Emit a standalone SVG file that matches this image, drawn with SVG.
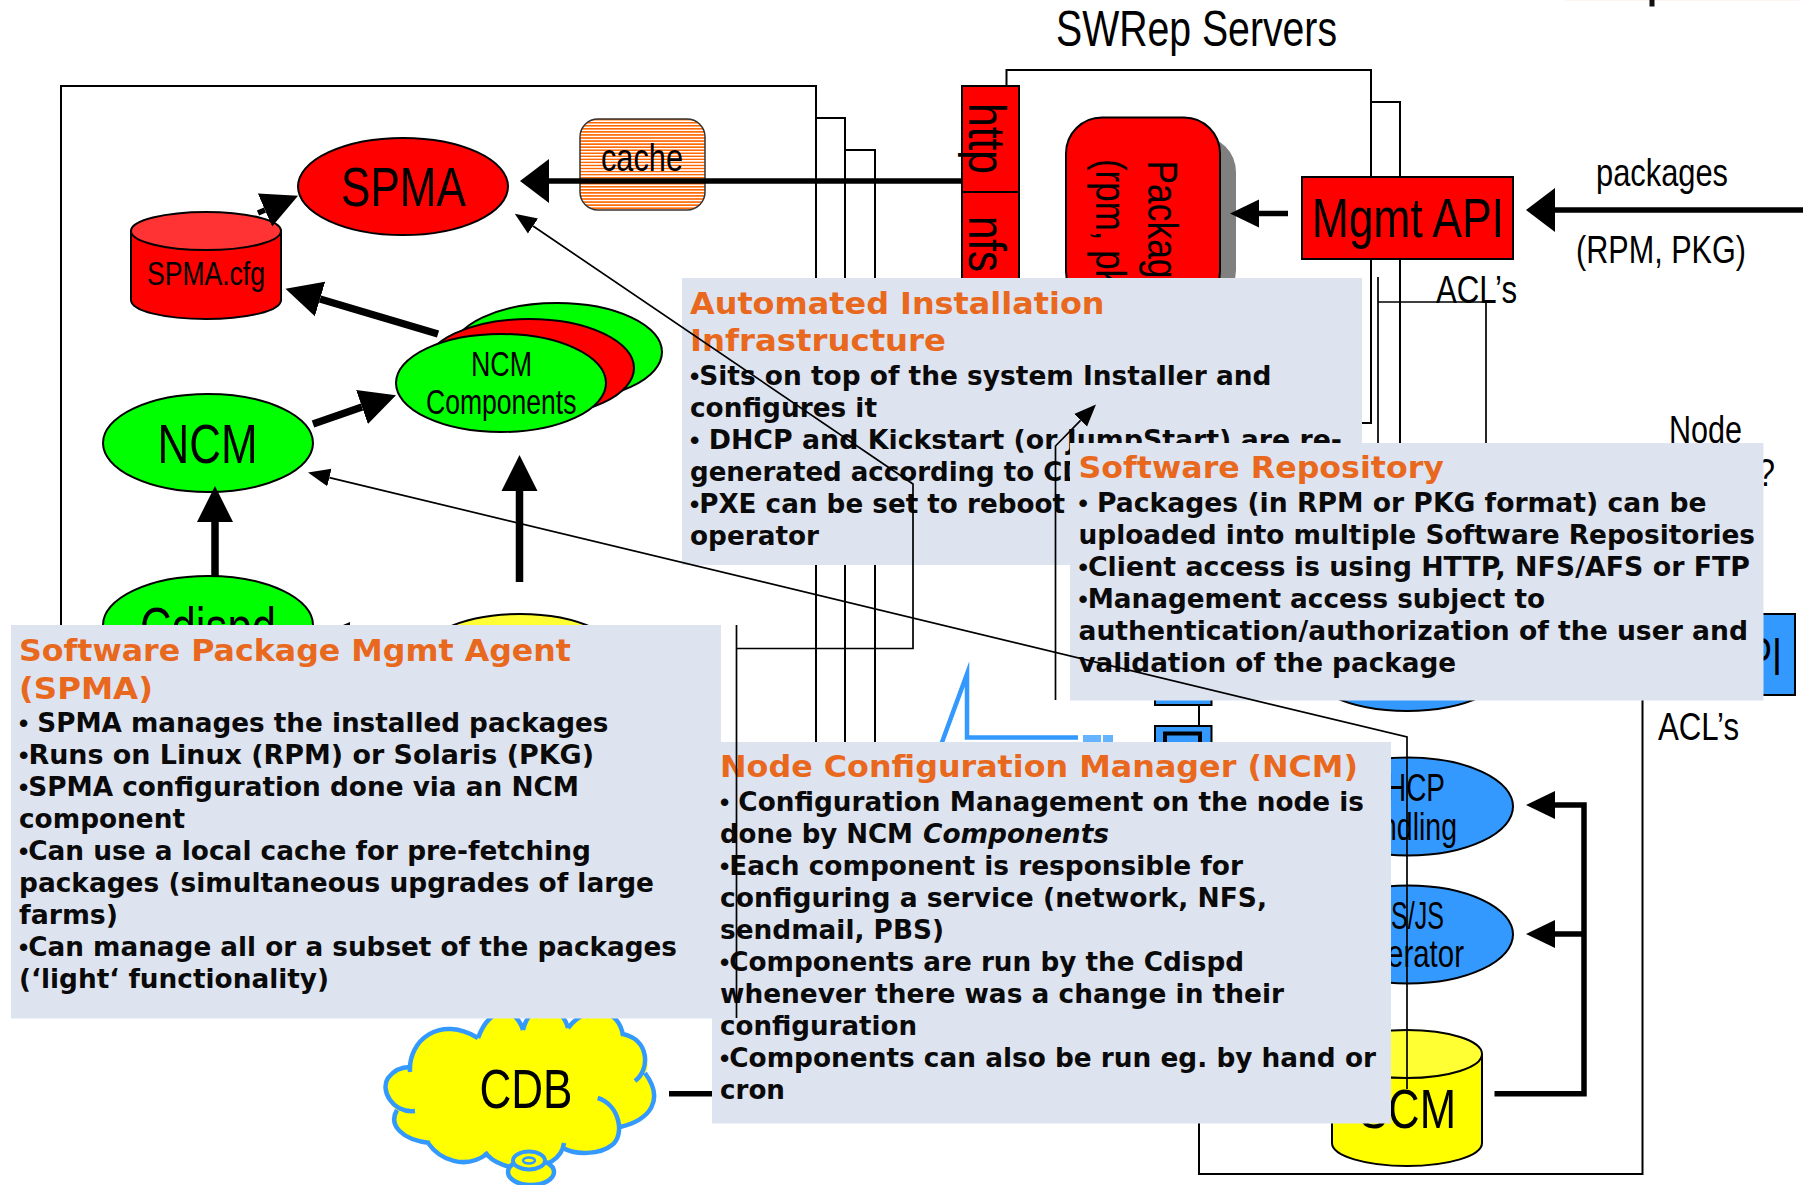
<svg xmlns="http://www.w3.org/2000/svg" width="1803" height="1185" viewBox="0 0 1803 1185">
<style>
.l{font-family:"Liberation Sans",Arial,sans-serif;fill:#000}
.b{font-family:"DejaVu Sans",Verdana,sans-serif;font-weight:700;font-size:26.5px;fill:#0a0a0a}
.d{font-family:"Liberation Sans",Arial,sans-serif}
.t{font-family:"DejaVu Sans",Verdana,sans-serif;font-weight:700;font-size:31px;fill:#E8681E}
.s{fill:none;stroke:#000;stroke-width:2}
.n{stroke:#000;stroke-width:2}
.th{fill:none;stroke:#000;stroke-width:1.7}
.a5{fill:none;stroke:#000;stroke-width:5.5}
.a7{fill:none;stroke:#000;stroke-width:7.5}
.box{fill:#DEE3F0}
.blue{fill:#3399FF}
.cl{fill:none;stroke:#3399FF;stroke-width:4.5;stroke-miterlimit:30}
</style>
<defs>
<marker id="aL" markerUnits="userSpaceOnUse" markerWidth="30" markerHeight="46" refX="0" refY="23" orient="auto"><path d="M0,1L29,23L0,45Z"/></marker>
<marker id="aM" markerUnits="userSpaceOnUse" markerWidth="38" markerHeight="38" refX="0" refY="19" orient="auto"><path d="M0,1L36,19L0,37Z"/></marker>
<marker id="aS" markerUnits="userSpaceOnUse" markerWidth="30" markerHeight="30" refX="0" refY="15" orient="auto"><path d="M0,1L29,15L0,29Z"/></marker>
<marker id="aT" markerUnits="userSpaceOnUse" markerWidth="24" markerHeight="22" refX="0" refY="11" orient="auto"><path d="M0,2L22,11L0,20Z"/></marker>
<pattern id="st" width="6" height="3.05" patternUnits="userSpaceOnUse"><rect width="6" height="3.05" fill="#fff"/><rect width="6" height="1.5" fill="#FF6600"/></pattern>
</defs>
<rect width="1803" height="1185" fill="#fff"/>
<rect x="1565" y="0" width="235" height="1" fill="#fff4ef"/>
<rect x="1649.5" y="0" width="5" height="6.5" fill="#111"/>

<g id="frames">
<path class="s" d="M816,118H845V800M845,150H875V800"/>
<rect class="s" x="61" y="86" width="755" height="720"/>
<path class="s" d="M1371,102H1400V445"/>
<path class="s" d="M1006.5,90V70H1371V423H1355"/>
<path class="th" d="M1378,277V445M1378,302H1486V445"/>
<path class="s" d="M1199,1120V1174H1642.5V695"/>
<path class="s" d="M1199,704V726"/>
</g>

<g id="spmacfg"><path class="n" fill="#f00" d="M131,231V300C131,311 165,319 206,319C247,319 281,311 281,300V231Z"/><ellipse class="n" cx="206" cy="231" rx="75" ry="19" fill="#FF3333"/><text class="l" x="147" y="285" font-size="33" textLength="118" lengthAdjust="spacingAndGlyphs">SPMA.cfg</text></g>
<g id="spma"><ellipse class="n" cx="403" cy="186.5" rx="105" ry="48.5" fill="#f00"/><text class="l" x="341" y="206" font-size="56" textLength="125" lengthAdjust="spacingAndGlyphs">SPMA</text></g>
<g id="cache"><rect x="580" y="119" width="125" height="91" rx="18" fill="url(#st)" stroke="#333" stroke-width="1.5"/><text class="l" x="601" y="171" font-size="39" textLength="82" lengthAdjust="spacingAndGlyphs">cache</text></g>
<g id="ncmcomponents"><ellipse class="n" cx="557" cy="352" rx="105" ry="49" fill="#0f0"/><ellipse class="n" cx="529" cy="368" rx="105" ry="49" fill="#f00"/><ellipse class="n" cx="501" cy="383" rx="105" ry="49" fill="#0f0"/><text class="l" x="471" y="376" font-size="35" textLength="61" lengthAdjust="spacingAndGlyphs">NCM</text><text class="l" x="426" y="414" font-size="35" textLength="150.5" lengthAdjust="spacingAndGlyphs">Components</text></g>
<g id="ncm"><ellipse class="n" cx="208" cy="443" rx="105" ry="49" fill="#0f0"/><text class="l" x="157.5" y="463" font-size="56" textLength="100" lengthAdjust="spacingAndGlyphs">NCM</text></g>
<g id="cdispd"><ellipse class="n" cx="208" cy="625" rx="105" ry="49" fill="#0f0"/><text class="l" x="140" y="646" font-size="56" textLength="136" lengthAdjust="spacingAndGlyphs">Cdispd</text></g>
<g id="yellownode"><ellipse class="n" cx="520" cy="663" rx="105" ry="49" fill="#FFFF33"/></g>
<g id="http"><rect class="n" x="962" y="86" width="57" height="106" fill="#f00"/><text class="l" transform="translate(969,103) rotate(90)" font-size="52" textLength="71" lengthAdjust="spacingAndGlyphs">http</text></g>
<g id="nfs"><rect class="n" x="962" y="192" width="57" height="100" fill="#f00"/><text class="l" transform="translate(969,216) rotate(90)" font-size="52" textLength="56" lengthAdjust="spacingAndGlyphs">nfs</text></g>
<g id="packages-store"><rect x="1082" y="136" width="154" height="170" rx="36" fill="#808080"/><rect class="n" x="1066" y="117.5" width="154" height="190" rx="36" fill="#f00"/><text class="l" transform="translate(1148,160.5) rotate(90)" font-size="43" textLength="118" lengthAdjust="spacingAndGlyphs">Packag</text><text class="l" transform="translate(1096,159) rotate(90)" font-size="43" textLength="128" lengthAdjust="spacingAndGlyphs">(rpm, pk</text></g>
<g id="mgmtapi"><rect x="1302" y="177" width="211" height="82" fill="#f00" stroke="#000" stroke-width="2"/><text class="l" x="1312" y="237" font-size="56" textLength="192" lengthAdjust="spacingAndGlyphs">Mgmt API</text></g>
<g id="labels">
<text class="l" x="1056" y="46" font-size="50" textLength="281" lengthAdjust="spacingAndGlyphs">SWRep Servers</text>
<text class="l" x="1596" y="186" font-size="39" textLength="132" lengthAdjust="spacingAndGlyphs">packages</text>
<text class="l" x="1576" y="262.5" font-size="39" textLength="170" lengthAdjust="spacingAndGlyphs">(RPM, PKG)</text>
<text class="l" x="1436" y="303" font-size="39" textLength="81" lengthAdjust="spacingAndGlyphs">ACL’s</text>
<text class="l" x="1669" y="443" font-size="39" textLength="73" lengthAdjust="spacingAndGlyphs">Node</text>
<text class="l" x="1757" y="486" font-size="39" textLength="18" lengthAdjust="spacingAndGlyphs">?</text>
<text class="l" x="1658" y="740" font-size="39" textLength="81" lengthAdjust="spacingAndGlyphs">ACL’s</text>
</g>
<g id="api2"><rect x="1740" y="614" width="55" height="81" class="blue" stroke="#000" stroke-width="2"/><text class="l" x="1748" y="675" font-size="54" textLength="34" lengthAdjust="spacingAndGlyphs">PI</text></g>
<g id="blue-shape"><path class="cl" d="M941,745L967,674V737.5H1078"/><rect x="1083" y="735" width="18" height="8" fill="#66B3FF"/><rect x="1103" y="735" width="10" height="8" fill="#66B3FF"/></g>
<g id="bluebox1"><rect class="n" x="1155" y="690" width="56.500" height="15" fill="#3399FF"/></g>
<g id="bluebox2"><rect class="n" x="1155" y="726" width="56.500" height="30" fill="#3399FF"/><rect x="1165" y="733.500" width="35" height="20" fill="none" stroke="#000" stroke-width="4"/></g>
<g id="blue-ellipse"><ellipse class="n blue" cx="1407" cy="662" rx="105" ry="49"/></g>
<g id="dhcp"><ellipse class="n blue" cx="1408" cy="806.500" rx="105" ry="49"/><text class="l" x="1386" y="801" font-size="39" textLength="59" lengthAdjust="spacingAndGlyphs">HCP</text><text class="l" x="1381" y="840" font-size="39" textLength="76" lengthAdjust="spacingAndGlyphs">ndling</text></g>
<g id="ksjs"><ellipse class="n blue" cx="1408" cy="934.500" rx="105" ry="49"/><text class="l" x="1391" y="928.500" font-size="39" textLength="53" lengthAdjust="spacingAndGlyphs">S/JS</text><text class="l" x="1387" y="966.500" font-size="39" textLength="77" lengthAdjust="spacingAndGlyphs">erator</text></g>
<g id="scm"><path class="n" fill="#ff0" d="M1332,1054V1143C1332,1156 1366,1166 1407,1166C1448,1166 1482,1156 1482,1143V1054Z"/><ellipse class="n" cx="1407" cy="1054" rx="75" ry="24" fill="#FFFF33"/><text class="l" x="1359" y="1128" font-size="56" textLength="97" lengthAdjust="spacingAndGlyphs">SCM</text></g>
<g id="cdb">
<path fill="#ff0" d="M410,1072C408,1040 440,1015 478,1038C490,1005 515,1005 523,1030C530,1000 560,1000 568,1028C590,1000 620,1010 623,1036C650,1040 650,1070 645,1073C665,1100 650,1120 620,1127C618,1135 615,1142 612,1145C600,1155 575,1155 563,1148C555,1175 500,1175 485,1155C465,1170 440,1160 428,1143C400,1140 388,1125 397,1110C388,1105 380,1090 388,1078C394,1070 402,1067 410,1067Z"/>
<path class="cl" d="M410,1072C408,1040 440,1015 478,1038M478,1038C490,1005 515,1005 523,1030M523,1030C530,1000 560,1000 568,1028M568,1028C590,1000 620,1010 623,1036M623,1034C650,1040 650,1070 635,1081M645,1073C665,1100 650,1120 620,1127M597.700,1098C620,1105 625,1135 612,1145C600,1155 575,1155 563,1148L564,1143M564,1143C560,1175 500,1175 485,1152M487,1154C465,1170 440,1160 428,1143M430,1143C402,1140 388,1125 397,1110M415,1111C392,1113 380,1090 388,1078C394,1070 402,1067 410,1067"/>
<ellipse cx="531" cy="1172" rx="23" ry="13" fill="#ff0" stroke="#3399FF" stroke-width="4.500"/>
<ellipse cx="529" cy="1160.500" rx="16" ry="9" fill="#ff0" stroke="#3399FF" stroke-width="4"/>
<ellipse cx="529" cy="1160.500" rx="6" ry="3" fill="#ff0" stroke="#3399FF" stroke-width="2.500"/>
<text class="l" x="479.500" y="1108" font-size="56" textLength="93" lengthAdjust="spacingAndGlyphs">CDB</text>
</g>

<g id="connectors-thick">
<path class="a5" d="M963,181H549" marker-end="url(#aL)"/>
<path class="a5" d="M1288,213.500H1259" marker-end="url(#aS)"/>
<path class="a5" d="M1803,210H1555" marker-end="url(#aL)"/>
<path class="a5" d="M258,213L265,210" marker-end="url(#aM)"/>
<path class="a7" d="M438,334L320,299" marker-end="url(#aM)"/>
<path class="a7" d="M313,424L362,407" marker-end="url(#aM)"/>
<path class="a7" d="M215,576V522" marker-end="url(#aM)"/>
<path class="a7" d="M519.500,582V491" marker-end="url(#aM)"/>
<path class="a5" d="M1494.500,1093.700H1584V805H1555" marker-end="url(#aS)"/>
<path class="a5" d="M1584,934H1555" marker-end="url(#aS)"/>
<path class="a5" d="M669,1093.700H712"/>
<path d="M343,625L350,622V625Z"/>
</g>

<g id="spma-note">
<rect class="box" x="712" y="742" width="679" height="381.500"/>
<rect class="box" x="11" y="625" width="710" height="393.500"/>
<text class="t" x="19" y="661" textLength="552" lengthAdjust="spacingAndGlyphs">Software Package Mgmt Agent</text>
<text class="t" x="19" y="699" textLength="134" lengthAdjust="spacingAndGlyphs">(SPMA)</text>
<text class="b" x="19" y="732" textLength="589.500" lengthAdjust="spacingAndGlyphs"><tspan class="d">•</tspan> SPMA manages the installed packages</text>
<text class="b" x="19" y="764" textLength="575" lengthAdjust="spacingAndGlyphs"><tspan class="d">•</tspan>Runs on Linux (RPM) or Solaris (PKG)</text>
<text class="b" x="19" y="796" textLength="560" lengthAdjust="spacingAndGlyphs"><tspan class="d">•</tspan>SPMA configuration done via an NCM</text>
<text class="b" x="19" y="828" textLength="166" lengthAdjust="spacingAndGlyphs">component</text>
<text class="b" x="19" y="860" textLength="572" lengthAdjust="spacingAndGlyphs"><tspan class="d">•</tspan>Can use a local cache for pre-fetching</text>
<text class="b" x="19" y="892" textLength="635" lengthAdjust="spacingAndGlyphs">packages (simultaneous upgrades of large</text>
<text class="b" x="19" y="924" textLength="99" lengthAdjust="spacingAndGlyphs">farms)</text>
<text class="b" x="19" y="956" textLength="658" lengthAdjust="spacingAndGlyphs"><tspan class="d">•</tspan>Can manage all or a subset of the packages</text>
<text class="b" x="19" y="988" textLength="310" lengthAdjust="spacingAndGlyphs">(‘light‘ functionality)</text>
</g>
<g id="ncm-note">
<text class="t" x="720" y="777" textLength="638" lengthAdjust="spacingAndGlyphs">Node Configuration Manager (NCM)</text>
<text class="b" x="720" y="811" textLength="644" lengthAdjust="spacingAndGlyphs"><tspan class="d">•</tspan> Configuration Management on the node is</text>
<text class="b" x="720" y="843" textLength="193" lengthAdjust="spacingAndGlyphs">done by NCM</text>
<text class="b" x="923" y="843" font-style="italic" textLength="186" lengthAdjust="spacingAndGlyphs">Components</text>
<text class="b" x="720" y="875" textLength="523" lengthAdjust="spacingAndGlyphs"><tspan class="d">•</tspan>Each component is responsible for</text>
<text class="b" x="720" y="907" textLength="547" lengthAdjust="spacingAndGlyphs">configuring a service (network, NFS,</text>
<text class="b" x="720" y="939" textLength="224" lengthAdjust="spacingAndGlyphs">sendmail, PBS)</text>
<text class="b" x="720" y="971" textLength="524" lengthAdjust="spacingAndGlyphs"><tspan class="d">•</tspan>Components are run by the Cdispd</text>
<text class="b" x="720" y="1003" textLength="564" lengthAdjust="spacingAndGlyphs">whenever there was a change in their</text>
<text class="b" x="720" y="1035" textLength="197" lengthAdjust="spacingAndGlyphs">configuration</text>
<text class="b" x="720" y="1067" textLength="656" lengthAdjust="spacingAndGlyphs"><tspan class="d">•</tspan>Components can also be run eg. by hand or</text>
<text class="b" x="720" y="1099" textLength="65" lengthAdjust="spacingAndGlyphs">cron</text>
</g>
<g id="aii-note">
<rect class="box" x="682" y="278" width="680" height="287"/>
<text class="t" x="690" y="313.500" textLength="414.500" lengthAdjust="spacingAndGlyphs">Automated Installation</text>
<text class="t" x="690" y="351" textLength="256" lengthAdjust="spacingAndGlyphs">Infrastructure</text>
<text class="b" x="690" y="385" textLength="581.500" lengthAdjust="spacingAndGlyphs"><tspan class="d">•</tspan>Sits on top of the system Installer and</text>
<text class="b" x="690" y="417" textLength="187" lengthAdjust="spacingAndGlyphs">configures it</text>
<text class="b" x="690" y="449" textLength="652" lengthAdjust="spacingAndGlyphs"><tspan class="d">•</tspan> DHCP and Kickstart (or JumpStart) are re-</text>
<text class="b" x="690" y="481" textLength="394" lengthAdjust="spacingAndGlyphs">generated according to CD</text>
<text class="b" x="690" y="513" textLength="375" lengthAdjust="spacingAndGlyphs"><tspan class="d">•</tspan>PXE can be set to reboot</text>
<text class="b" x="690" y="545" textLength="129" lengthAdjust="spacingAndGlyphs">operator</text>
</g>
<g id="swrep-note">
<rect class="box" x="1070" y="443" width="693.500" height="257.500"/>
<text class="t" x="1078.500" y="478" textLength="365.500" lengthAdjust="spacingAndGlyphs">Software Repository</text>
<text class="b" x="1078.500" y="512" textLength="628" lengthAdjust="spacingAndGlyphs"><tspan class="d">•</tspan> Packages (in RPM or PKG format) can be</text>
<text class="b" x="1078.500" y="544" textLength="676.500" lengthAdjust="spacingAndGlyphs">uploaded into multiple Software Repositories</text>
<text class="b" x="1078.500" y="576" textLength="671.500" lengthAdjust="spacingAndGlyphs"><tspan class="d">•</tspan>Client access is using HTTP, NFS/AFS or FTP</text>
<text class="b" x="1078.500" y="607.500" textLength="466.500" lengthAdjust="spacingAndGlyphs"><tspan class="d">•</tspan>Management access subject to</text>
<text class="b" x="1078.500" y="639.500" textLength="669.500" lengthAdjust="spacingAndGlyphs">authentication/authorization of the user and</text>
<text class="b" x="1078.500" y="671.500" textLength="377.500" lengthAdjust="spacingAndGlyphs">validation of the package</text>
</g>

<g id="connectors-thin">
<path class="th" d="M736.500,625V1018M736.500,648.500H913V484L533,226" marker-end="url(#aT)"/>
<path class="th" d="M1407,1089V737L329.400,477.600" marker-end="url(#aT)"/>
<path class="th" d="M1055.500,700V446L1080.600,420.300" marker-end="url(#aT)"/>
</g>
</svg>
